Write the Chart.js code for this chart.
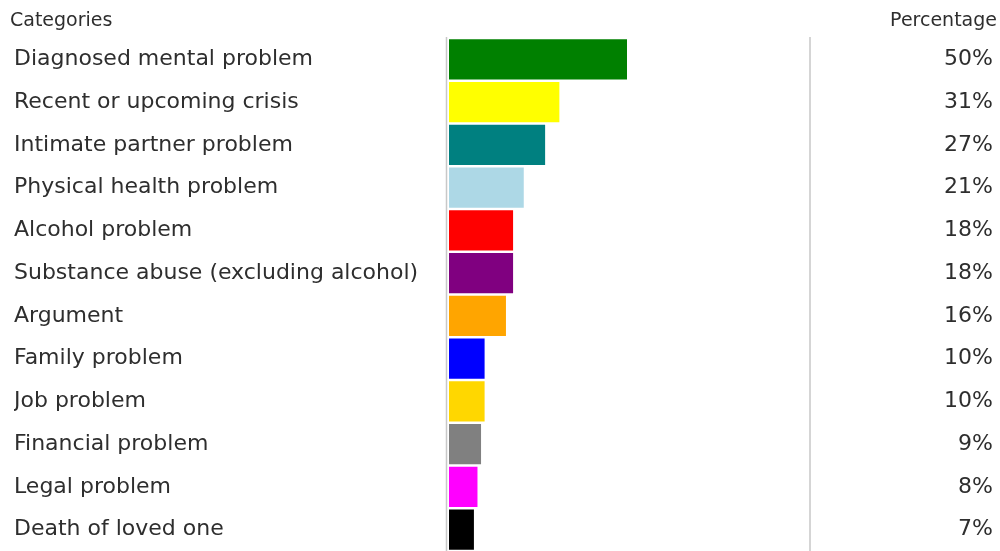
<!DOCTYPE html>
<html>
<head>
<meta charset="utf-8">
<script src="https://cdn.jsdelivr.net/npm/chart.js@4/dist/chart.umd.min.js"></script>
<style>
  html, body { margin: 0; padding: 0; background: #fff; }
  #wrap { width: 1000px; height: 551px; }
</style>
</head>
<body>
<div id="wrap"><canvas id="chart" width="1000" height="551"></canvas></div>
<script>
// data
const categories = ['Diagnosed mental problem', 'Recent or upcoming crisis', 'Intimate partner problem',
    'Physical health problem', 'Alcohol problem', 'Substance abuse (excluding alcohol)', 'Argument',
    'Family problem', 'Job problem', 'Financial problem', 'Legal problem', 'Death of loved one'];
const percentages = [50, 31, 27, 21, 18, 18, 16, 10, 10, 9, 8, 7];
const pctLabels = percentages.map(v => v + '%');
const barColors = ['#008000', '#ffff00', '#008080', '#add8e6', '#ff0000', '#800080',
    '#ffa500', '#0000ff', '#ffd700', '#808080', '#ff00ff', '#000000'];

const FONT = 'DejaVu Sans';
const TEXT = '#2e2e2e';

// headers + the two thin gray rules
const framePlugin = {
    id: 'frame',
    beforeDatasetsDraw(chart) {
        const { ctx, chartArea } = chart;
        ctx.save();
        ctx.strokeStyle = '#c8c8c8';
        ctx.lineWidth = 1.5;
        ctx.beginPath();
        ctx.moveTo(chartArea.left - 2.5, chartArea.top - 1);
        ctx.lineTo(chartArea.left - 2.5, chart.height);
        ctx.moveTo(chartArea.right + 5, chartArea.top - 1);
        ctx.lineTo(chartArea.right + 5, chart.height);
        ctx.stroke();
        ctx.restore();
    },
    afterDraw(chart) {
        const { ctx } = chart;
        ctx.save();
        ctx.fillStyle = TEXT;
        ctx.font = '19px "' + FONT + '"';
        ctx.textBaseline = 'middle';
        ctx.textAlign = 'left';
        ctx.fillText('Categories', 10, 21);
        ctx.textAlign = 'right';
        ctx.fillText('Percentage', 997, 21);
        ctx.restore();
    }
};

// fixed widths, and no label padding eating into the plot height
function fixAxis(width) {
    return scale => {
        scale.width = width;
        scale.paddingTop = 0;
        scale.paddingBottom = 0;
    };
}

new Chart(document.getElementById('chart').getContext('2d'), {
    type: 'bar',
    data: {
        labels: categories,
        datasets: [{
            data: percentages,
            backgroundColor: barColors,
            borderWidth: 0,
            barPercentage: 0.936,
            categoryPercentage: 1
        }]
    },
    options: {
        indexAxis: 'y',
        responsive: false,
        animation: false,
        layout: { padding: { top: 38, left: 14, right: 7, bottom: 0 } },
        plugins: { legend: { display: false }, tooltip: { enabled: false } },
        scales: {
            x: { display: false, min: 0, max: 100 },
            y: {
                position: 'left',
                grid: { display: false, drawTicks: false },
                border: { display: false },
                ticks: { crossAlign: 'far', color: TEXT, font: { family: FONT, size: 22 } },
                afterFit: fixAxis(435)
            },
            y2: {
                type: 'category',
                labels: pctLabels,
                position: 'right',
                offset: true,
                grid: { display: false, drawTicks: false },
                border: { display: false },
                ticks: { crossAlign: 'far', color: TEXT, font: { family: FONT, size: 22 } },
                afterFit: fixAxis(188)
            }
        }
    },
    plugins: [framePlugin]
});
</script>
</body>
</html>
